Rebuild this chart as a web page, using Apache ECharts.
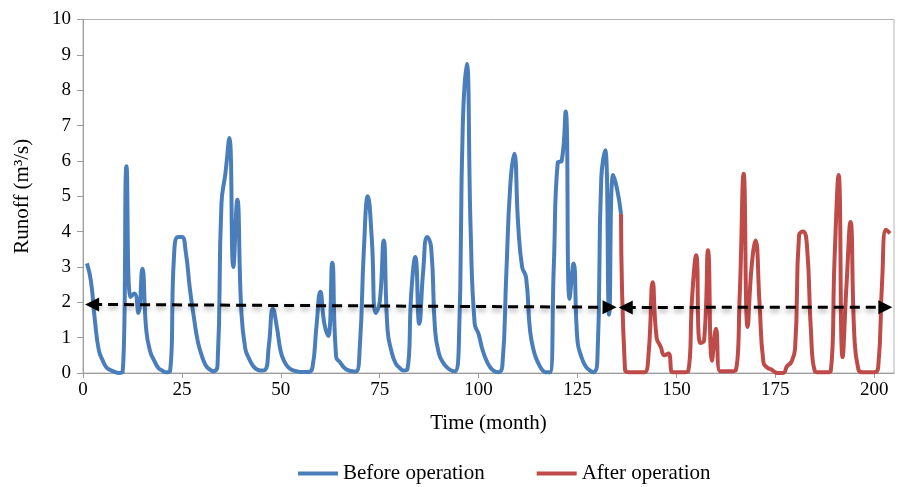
<!DOCTYPE html>
<html>
<head>
<meta charset="utf-8">
<script src="https://cdn.jsdelivr.net/npm/echarts@6/dist/echarts.min.js"></script>
<style>
  html, body { margin: 0; padding: 0; background: #ffffff; }
  #chart { width: 898px; height: 487px; }
</style>
</head>
<body>
<div id="chart"></div>
<script>
// Monthly runoff (m3/s) before reservoir operation, months 1..136
const beforeStartMonth = 1;
const beforeValues = [
  3.1, 2.6, 1.5, 0.65, 0.35, 0.15, 0.08, 0.03, 0.0, 0.02,
  5.85, 2.15, 2.25, 1.7, 2.95, 1.2, 0.6, 0.35, 0.15, 0.07,
  0.02, 0.05, 3.3, 3.85, 3.85, 3.4, 2.4, 1.6, 0.9, 0.5,
  0.22, 0.1, 0.05, 0.2, 4.8, 5.65, 6.65, 3.0, 4.9, 1.8,
  0.7, 0.4, 0.2, 0.1, 0.07, 0.08, 0.8, 1.82, 1.3, 0.6,
  0.3, 0.15, 0.08, 0.05, 0.03, 0.03, 0.03, 0.15, 1.3, 2.3,
  1.4, 1.05, 3.12, 0.45, 0.3, 0.15, 0.08, 0.05, 0.04, 0.8,
  3.5, 5.0, 3.8, 1.7, 2.0, 3.75, 1.2, 0.6, 0.28, 0.15,
  0.07, 0.1, 2.3, 3.28, 1.39, 2.9, 3.85, 3.56, 1.2, 0.54,
  0.3, 0.16, 0.08, 0.05, 0.8, 7.0, 8.75, 4.0, 1.4, 1.1,
  0.65, 0.35, 0.15, 0.05, 0.02, 0.2, 2.8, 5.3, 6.2, 4.2,
  3.0, 2.7, 1.2, 0.6, 0.3, 0.1, 0.02, 0.02, 3.0, 5.95,
  6.0, 7.4, 2.1, 3.1, 0.9, 0.45, 0.2, 0.08, 0.02, 0.3,
  5.5, 6.3, 1.65, 5.6, 5.2, 4.5
];

// Monthly runoff (m3/s) after reservoir operation, months 136..204
const afterStartMonth = 136;
const afterValues = [
  4.5, 0.1, 0.02, 0.02, 0.02, 0.02, 0.02, 0.6, 2.57, 1.0,
  0.75, 0.5, 0.55, 0.02, 0.02, 0.02, 0.02, 0.05, 2.2, 3.33,
  0.85, 0.92, 3.47, 0.35, 1.25, 0.05, 0.05, 0.05, 0.05, 0.07,
  2.2, 5.64, 1.3, 3.0, 3.75, 2.0, 0.3, 0.15, 0.1, 0.02,
  0.0, 0.0, 0.2, 0.3, 0.7, 3.9, 4.0, 3.6, 1.2, 0.05,
  0.02, 0.02, 0.02, 0.05, 3.3, 5.6, 0.45, 2.5, 4.27, 1.0,
  0.1, 0.02, 0.02, 0.02, 0.02, 0.15, 2.6, 4.05, 3.95
];

// Mean-runoff arrows for each period: [month, runoff] at both ends
const beforeMeanArrow = [[2.3, 1.94], [133.1, 1.86]];
const afterMeanArrow = [[137.2, 1.855], [202.8, 1.86]];

// Axis ticks
const xTicks = [0, 25, 50, 75, 100, 125, 150, 175, 200];
const yTicks = [0, 1, 2, 3, 4, 5, 6, 7, 8, 9, 10];

const seriesNames = ['Before operation', 'After operation'];

const toPairs = (start, values) => values.map((v, i) => [start + i, v]);

const FONT = '"Liberation Serif", "Times New Roman", serif';
const AXIS_GRAY = '#9d9d9d';

const arrowStyle = {
  color: '#000000',
  width: 3,
  type: [10, 6],
  shadowColor: 'rgba(0,0,0,0.35)',
  shadowBlur: 5,
  shadowOffsetY: 3
};

const arrowMarkLine = (pts) => ({
  silent: true,
  symbol: ['triangle', 'triangle'],
  symbolSize: 14,
  label: { show: false },
  emphasis: { disabled: true },
  lineStyle: arrowStyle,
  data: [[{ coord: pts[0] }, { coord: pts[1] }]]
});

const chart = echarts.init(document.getElementById('chart'), null, { renderer: 'canvas' });

chart.setOption({
  animation: false,
  backgroundColor: '#ffffff',
  textStyle: { fontFamily: FONT },
  grid: {
    left: 83, right: 4, top: 19.5, bottom: 114,
    show: true, borderColor: '#b4b4b4', borderWidth: 1
  },
  legend: {
    data: seriesNames,
    left: 293, top: 458,
    icon: 'rect',
    itemWidth: 40, itemHeight: 4,
    itemGap: 52,
    textStyle: { fontFamily: FONT, fontSize: 21, color: '#000000' }
  },
  xAxis: {
    type: 'value',
    min: 0, max: 205,
    name: 'Time (month)',
    nameLocation: 'middle',
    nameGap: 40,
    nameTextStyle: { fontFamily: FONT, fontSize: 21, color: '#000000' },
    axisLine: { show: true, lineStyle: { color: AXIS_GRAY, width: 1 } },
    axisTick: { show: true, length: 5, lineStyle: { color: AXIS_GRAY }, customValues: xTicks },
    axisLabel: { customValues: xTicks, fontFamily: FONT, fontSize: 19, color: '#000000', margin: 8 },
    splitLine: { show: false }
  },
  yAxis: {
    type: 'value',
    min: 0, max: 10, interval: 1,
    name: 'Runoff (m³/s)',
    nameLocation: 'middle',
    nameRotate: 90,
    nameGap: 50,
    nameTextStyle: { fontFamily: FONT, fontSize: 21, color: '#000000' },
    axisLine: { show: true, lineStyle: { color: AXIS_GRAY, width: 1 } },
    axisTick: { show: true, length: 6, lineStyle: { color: AXIS_GRAY }, customValues: yTicks },
    axisLabel: { customValues: yTicks, fontFamily: FONT, fontSize: 19, color: '#000000', margin: 12 },
    splitLine: { show: false }
  },
  series: [
    {
      name: seriesNames[0],
      type: 'line',
      data: toPairs(beforeStartMonth, beforeValues),
      smooth: 0.5,
      showSymbol: false,
      z: 2,
      lineStyle: { color: '#4a7ebb', width: 4 },
      itemStyle: { color: '#4a7ebb' }
    },
    {
      name: seriesNames[1],
      type: 'line',
      data: toPairs(afterStartMonth, afterValues),
      smooth: 0.5,
      showSymbol: false,
      z: 3,
      lineStyle: { color: '#be4b48', width: 4 },
      itemStyle: { color: '#be4b48' }
    },
    {
      name: 'beforeMean',
      type: 'line',
      data: [],
      z: 5,
      markLine: arrowMarkLine(beforeMeanArrow)
    },
    {
      name: 'afterMean',
      type: 'line',
      data: [],
      z: 5,
      markLine: arrowMarkLine(afterMeanArrow)
    }
  ]
});
</script>
</body>
</html>
